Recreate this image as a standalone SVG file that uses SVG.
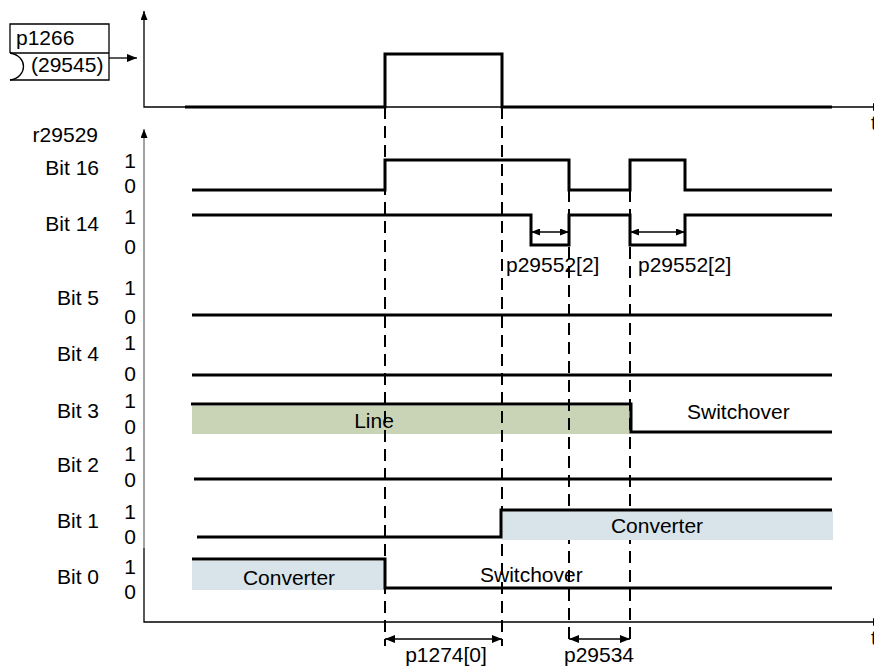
<svg xmlns="http://www.w3.org/2000/svg" width="874" height="666" viewBox="0 0 874 666">
<defs>
<marker id="ah" viewBox="0 0 10 8" refX="10" refY="4" markerWidth="10" markerHeight="8" markerUnits="userSpaceOnUse" orient="auto-start-reverse"><path d="M0,0 L10,4 L0,8 z" fill="#000"/></marker>
<marker id="ahs" viewBox="0 0 9 7" refX="9" refY="3.5" markerWidth="9" markerHeight="7" markerUnits="userSpaceOnUse" orient="auto-start-reverse"><path d="M0,0 L9,3.5 L0,7 z" fill="#000"/></marker>
</defs>
<style>
text{font-family:"Liberation Sans",Arial,sans-serif;font-size:21px;fill:#000}
.sig{fill:none;stroke:#000;stroke-width:3;stroke-linejoin:miter;stroke-linecap:butt}
.ax{fill:none;stroke:#000;stroke-width:1.3}
.dash{fill:none;stroke:#000;stroke-width:2;stroke-dasharray:12 7}
.dim{fill:none;stroke:#000;stroke-width:1.3}
.r{text-anchor:end}
.m{text-anchor:middle}
.green{fill:#c9d4b7}
.blue{fill:#d8e4ea}
</style>

<g id="source-p1266">
<path class="ax" d="M10,53 V24 H109 V80 H10"/>
<path class="ax" d="M10,53 H109"/>
<path class="ax" d="M10,53 C28,56 28,77 10,80"/>
<text x="16" y="45">p1266</text>
<text x="31" y="72">(29545)</text>
</g>

<g id="axes">
<path class="ax" d="M144,11 V107 H883" marker-start="url(#ahs)" marker-end="url(#ah)"/>
<path fill="none" stroke="#707070" stroke-width="1.3" d="M144,548 V129" marker-end="url(#ahs)"/>
<path class="ax" d="M144,548 V622 H883" marker-end="url(#ah)"/>
<text x="871" y="130">t</text>
<text x="871" y="645">t</text>
</g>

<g id="bands-under">
<rect class="green" x="192" y="406" width="438" height="28"/>
</g>

<g id="connectors">
<line class="ax" x1="109" y1="58" x2="137" y2="58" marker-end="url(#ah)"/>
<line class="dash" x1="385" y1="107" x2="385" y2="646"/>
<line class="dash" x1="502" y1="107" x2="502" y2="646"/>
<line class="dash" x1="569" y1="190" x2="569" y2="646"/>
<line class="dash" x1="630" y1="190" x2="630" y2="646"/>
<line class="dim" x1="531" y1="232" x2="569" y2="232" marker-start="url(#ahs)" marker-end="url(#ahs)"/>
<line class="dim" x1="630" y1="232" x2="685" y2="232" marker-start="url(#ahs)" marker-end="url(#ahs)"/>
<line class="dim" x1="385" y1="639" x2="502" y2="639" marker-start="url(#ah)" marker-end="url(#ah)"/>
<line class="dim" x1="569" y1="639" x2="630" y2="639" marker-start="url(#ah)" marker-end="url(#ah)"/>
</g>

<g id="bands">
<rect class="blue" x="502" y="511" width="331" height="29"/>
<rect class="blue" x="192" y="561" width="192" height="29"/>
</g>

<g id="signals">
<path id="sig-p1266" class="sig" d="M185,107 H385 V54 H502 V107 H832"/>
<path id="sig-bit16" class="sig" d="M192,190 H385 V160 H569 V190 H630 V160 H685 V190 H832"/>
<path id="sig-bit14" class="sig" d="M192,215 H531 V245 H569 V215 H630 V245 H685 V215 H832"/>
<path id="sig-bit5" class="sig" d="M192,315 H832"/>
<path id="sig-bit4" class="sig" d="M192,375 H832"/>
<path id="sig-bit3" class="sig" d="M191,404 H631 V432 H832"/>
<path id="sig-bit2" class="sig" d="M194,479 H832"/>
<path id="sig-bit1" class="sig" d="M197,537 H501 V510 H832"/>
<path id="sig-bit0" class="sig" d="M192,559 H385 V588 H832"/>
</g>

<g id="labels">
<text class="r" x="98" y="142">r29529</text>
<text class="r" x="99" y="175">Bit 16</text>
<text class="m" x="130" y="168">1</text>
<text class="m" x="130" y="193">0</text>
<text class="r" x="99" y="231">Bit 14</text>
<text class="m" x="130" y="224">1</text>
<text class="m" x="130" y="254">0</text>
<text class="r" x="99" y="305">Bit 5</text>
<text class="m" x="130" y="295">1</text>
<text class="m" x="130" y="324">0</text>
<text class="r" x="99" y="361">Bit 4</text>
<text class="m" x="130" y="350">1</text>
<text class="m" x="130" y="381">0</text>
<text class="r" x="99" y="418">Bit 3</text>
<text class="m" x="130" y="408">1</text>
<text class="m" x="130" y="434">0</text>
<text class="r" x="99" y="472">Bit 2</text>
<text class="m" x="130" y="461">1</text>
<text class="m" x="130" y="487">0</text>
<text class="r" x="99" y="528">Bit 1</text>
<text class="m" x="130" y="519">1</text>
<text class="m" x="130" y="544">0</text>
<text class="r" x="99" y="584">Bit 0</text>
<text class="m" x="130" y="574">1</text>
<text class="m" x="130" y="599">0</text>

<text x="506" y="272">p29552[2]</text>
<text x="638" y="272">p29552[2]</text>
<text class="m" x="374" y="428">Line</text>
<text x="687" y="419">Switchover</text>
<text class="m" x="657" y="533">Converter</text>
<text class="m" x="289" y="585">Converter</text>
<text x="480" y="582">Switchover</text>
<text class="m" x="446" y="662">p1274[0]</text>
<text class="m" x="599" y="662">p29534</text>
</g>
</svg>
